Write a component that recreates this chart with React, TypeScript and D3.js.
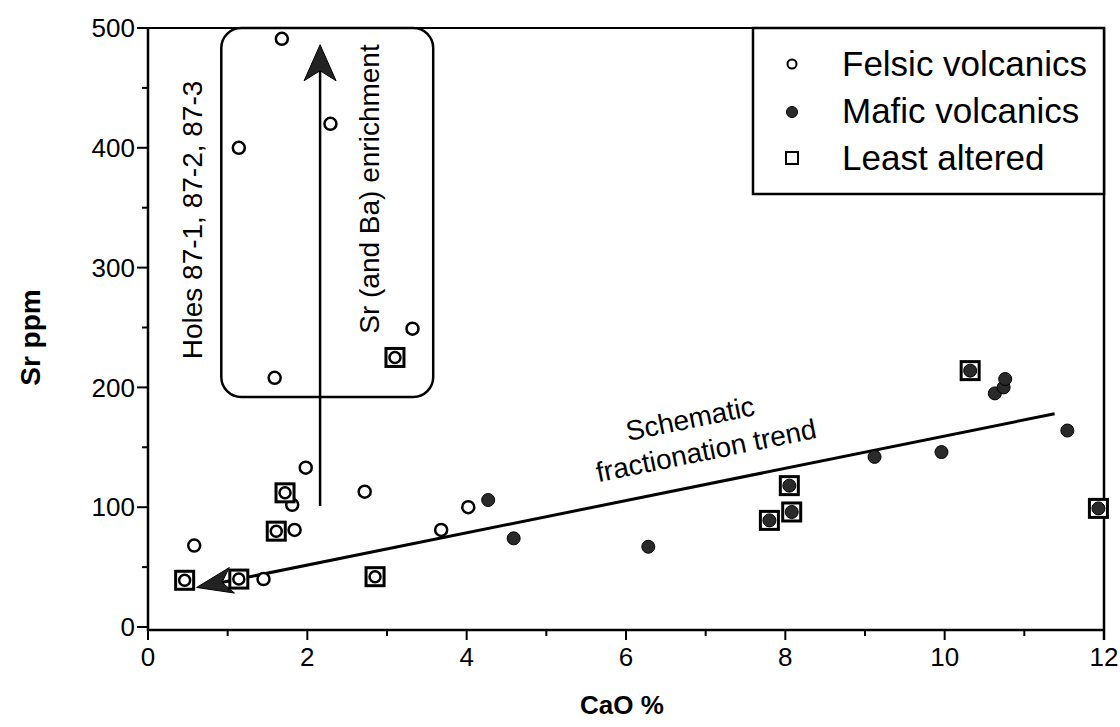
import React from "react";
import * as d3 from "d3";

// ---- data ----
const xTicks = [0, 2, 4, 6, 8, 10, 12];
const xMinor = [1, 3, 5, 7, 9, 11];
const yTicks = [0, 100, 200, 300, 400, 500];
const yMinor = [50, 150, 250, 350, 450];

const felsic: [number, number][] = [
  [0.58, 68], [1.14, 400], [1.45, 40], [1.59, 208], [1.68, 491], [1.81, 102],
  [1.84, 81], [1.98, 133], [2.29, 420], [2.72, 113], [3.32, 249], [3.68, 81], [4.02, 100],
];
const felsicLeastAltered: [number, number][] = [
  [0.46, 39], [1.14, 40], [1.61, 80], [1.72, 112], [2.85, 42], [3.1, 225],
];
const mafic: [number, number][] = [
  [4.27, 106], [4.59, 74], [6.28, 67], [9.12, 142], [9.96, 146],
  [10.63, 195], [10.74, 200], [10.76, 207], [11.54, 164],
];
const maficLeastAltered: [number, number][] = [
  [7.8, 89], [8.05, 118], [8.08, 96], [10.32, 214], [11.93, 99],
];

const trendLine: [number, number][] = [[11.38, 178], [0.61, 33]];
const enrichArrow: [number, number][] = [[2.16, 101], [2.16, 486]];
const holesBox = { x0: 0.92, x1: 3.58, y0: 192, y1: 500 };

const legendItems = ["Felsic volcanics", "Mafic volcanics", "Least altered"];

const FONT = "'Liberation Sans', Arial, Helvetica, sans-serif";

function stealth(tip: [number, number], from: [number, number], L = 36, W = 14) {
  const dx = tip[0] - from[0];
  const dy = tip[1] - from[1];
  const len = Math.hypot(dx, dy);
  const ux = dx / len, uy = dy / len;
  const px = -uy, py = ux;
  const bx = tip[0] - ux * L, by = tip[1] - uy * L;
  const nx = tip[0] - ux * L * 0.72, ny = tip[1] - uy * L * 0.72;
  return `M${tip[0]},${tip[1]} L${bx + px * W},${by + py * W} L${nx},${ny} L${bx - px * W},${by - py * W} Z`;
}

export default function App() {
  const width = 1120, height = 727;
  const left = 148, right = 1104, top = 28, bottom = 627;
  const x = d3.scaleLinear().domain([0, 12]).range([left, right]);
  const y = d3.scaleLinear().domain([0, 500]).range([bottom, top]);
  const axisY = 630;

  const tA: [number, number] = [x(trendLine[0][0]), y(trendLine[0][1])];
  const tB: [number, number] = [x(trendLine[1][0]), y(trendLine[1][1])];
  const eA: [number, number] = [x(enrichArrow[0][0]), y(enrichArrow[0][1])];
  const eB: [number, number] = [x(enrichArrow[1][0]), y(enrichArrow[1][1])];
  const angle = (Math.atan2(tA[1] - tB[1], tA[0] - tB[0]) * 180) / Math.PI;

  const SQ = 18;

  return (
    <svg width={width} height={height} style={{ position: "absolute", left: 0, top: 0, background: "#fff" }} fontFamily={FONT}>
      <rect x={0} y={0} width={width} height={height} fill="#fff" />
      {/* frame */}
      <line x1={left} x2={left} y1={top} y2={axisY + 1} stroke="#000" strokeWidth={2.5} />
      <line x1={left} x2={right} y1={axisY} y2={axisY} stroke="#000" strokeWidth={2.5} />
      <line x1={right} x2={right} y1={top} y2={axisY + 10} stroke="#000" strokeWidth={2.5} />
      <line x1={left} x2={right} y1={top} y2={top} stroke="#000" strokeWidth={2} />

      {/* y ticks */}
      {yTicks.map((t) => (
        <g key={"y" + t}>
          <line x1={left - 11} x2={left} y1={y(t)} y2={y(t)} stroke="#000" strokeWidth={2} />
          <text x={left - 13} y={y(t)} dy="0.35em" textAnchor="end" fontSize={26}>{t}</text>
        </g>
      ))}
      {yMinor.map((t) => (
        <line key={"ym" + t} x1={left - 6} x2={left} y1={y(t)} y2={y(t)} stroke="#000" strokeWidth={2} />
      ))}
      {/* x ticks */}
      {xTicks.map((t) => (
        <g key={"x" + t}>
          <line x1={x(t)} x2={x(t)} y1={axisY} y2={axisY + 10} stroke="#000" strokeWidth={2} />
          <text x={x(t)} y={666} textAnchor="middle" fontSize={26}>{t}</text>
        </g>
      ))}
      {xMinor.map((t) => (
        <line key={"xm" + t} x1={x(t)} x2={x(t)} y1={axisY} y2={axisY + 6} stroke="#000" strokeWidth={2} />
      ))}

      {/* axis titles */}
      <text x={(left + right) / 2 - 4} y={714} textAnchor="middle" fontSize={26} fontWeight="bold">CaO %</text>
      <text transform={`translate(40, ${(top + bottom) / 2 + 10}) rotate(-90)`} textAnchor="middle" fontSize={28} fontWeight="bold">Sr ppm</text>

      {/* annotation box */}
      <rect x={x(holesBox.x0)} y={y(holesBox.y1)} width={x(holesBox.x1) - x(holesBox.x0)} height={y(holesBox.y0) - y(holesBox.y1)}
        rx={20} ry={20} fill="none" stroke="#000" strokeWidth={2.5} />
      <text transform={`translate(202, 220) rotate(-90)`} textAnchor="middle" fontSize={28}>Holes 87-1, 87-2, 87-3</text>
      <text transform={`translate(379, 189) rotate(-90)`} textAnchor="middle" fontSize={28}>Sr (and Ba) enrichment</text>

      {/* enrichment arrow */}
      <line x1={eA[0]} y1={eA[1]} x2={eB[0]} y2={eB[1] + 20} stroke="#000" strokeWidth={2.5} />
      <path d={stealth(eB, eA, 36, 16)} fill="#222" stroke="#000" strokeWidth={1} />

      {/* trend line */}
      <line x1={tA[0]} y1={tA[1]} x2={tB[0] + 20} y2={tB[1] - 4} stroke="#000" strokeWidth={3} />
      <path d={stealth(tB, tA, 36, 13)} fill="#222" stroke="#000" strokeWidth={1} />
      <g transform={`translate(692, 428) rotate(${angle})`}>
        <text x={0} y={0} textAnchor="middle" fontSize={28}>Schematic</text>
      </g>
      <g transform={`translate(708, 460) rotate(${angle})`}>
        <text x={0} y={0} textAnchor="middle" fontSize={28}>fractionation trend</text>
      </g>

      {/* data */}
      {felsic.map((d, i) => (
        <circle key={"f" + i} cx={x(d[0])} cy={y(d[1])} r={6} fill="#fff" stroke="#000" strokeWidth={2.5} />
      ))}
      {felsicLeastAltered.map((d, i) => (
        <g key={"fl" + i}>
          <rect x={x(d[0]) - SQ / 2} y={y(d[1]) - SQ / 2} width={SQ} height={SQ} fill="#fff" stroke="#000" strokeWidth={3} />
          <circle cx={x(d[0])} cy={y(d[1])} r={5.5} fill="#fff" stroke="#000" strokeWidth={2.5} />
        </g>
      ))}
      {mafic.map((d, i) => (
        <circle key={"m" + i} cx={x(d[0])} cy={y(d[1])} r={6.5} fill="#2a2a2a" stroke="#000" strokeWidth={1} />
      ))}
      {maficLeastAltered.map((d, i) => (
        <g key={"ml" + i}>
          <rect x={x(d[0]) - SQ / 2} y={y(d[1]) - SQ / 2} width={SQ} height={SQ} fill="#fff" stroke="#000" strokeWidth={3} />
          <circle cx={x(d[0])} cy={y(d[1])} r={6.5} fill="#2a2a2a" stroke="#000" strokeWidth={1} />
        </g>
      ))}

      {/* legend */}
      <rect x={753} y={top} width={right - 753} height={194 - top} fill="#fff" stroke="#000" strokeWidth={2.5} />
      <circle cx={792} cy={64} r={4.5} fill="#fff" stroke="#000" strokeWidth={2} />
      <circle cx={792} cy={112} r={5.5} fill="#2a2a2a" stroke="#000" strokeWidth={1} />
      <rect x={786} y={152} width={12} height={12} fill="#fff" stroke="#000" strokeWidth={2} />
      {legendItems.map((t, i) => (
        <text key={t} x={842} y={64 + i * 47} dy="0.35em" fontSize={35}>{t}</text>
      ))}
    </svg>
  );
}
